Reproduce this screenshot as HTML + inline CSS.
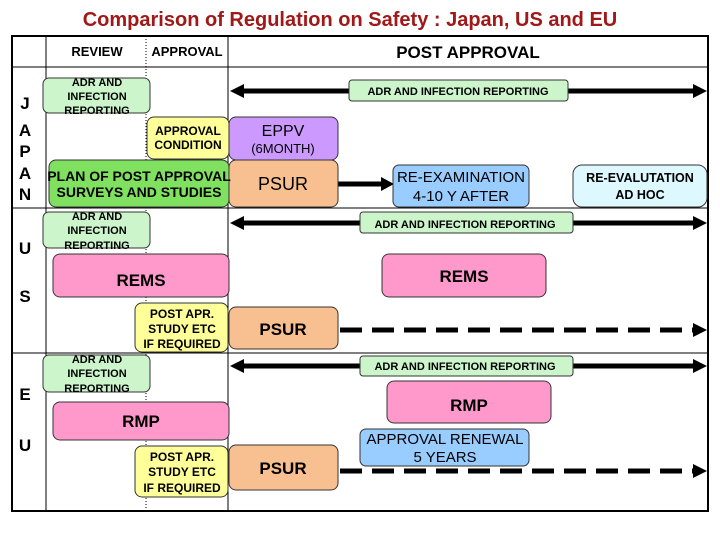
<!DOCTYPE html>
<html><head><meta charset="utf-8"><style>
html,body{margin:0;padding:0;background:#fff}
svg{display:block}
text{font-family:"Liberation Sans",Arial,sans-serif}
</style></head><body>
<svg width="720" height="540" viewBox="0 0 720 540" xmlns="http://www.w3.org/2000/svg">
<text x="350" y="26" text-anchor="middle" font-size="20" font-weight="bold" fill="#a01818">Comparison of Regulation on Safety : Japan, US and EU</text>
<rect x="12" y="36" width="696" height="475" fill="none" stroke="#000" stroke-width="2"/>
<line x1="12" y1="67" x2="708" y2="67" stroke="#000"/>
<line x1="12" y1="208" x2="708" y2="208" stroke="#000"/>
<line x1="12" y1="353" x2="708" y2="353" stroke="#000"/>
<line x1="46" y1="36" x2="46" y2="511" stroke="#000"/>
<line x1="228" y1="36" x2="228" y2="511" stroke="#000"/>
<line x1="146" y1="36" x2="146" y2="511" stroke="#000" stroke-dasharray="1,2"/>
<g font-weight="bold" font-size="13" text-anchor="middle">
<text x="97" y="56">REVIEW</text><text x="187" y="56">APPROVAL</text>
<text x="468" y="58" font-size="17">POST APPROVAL</text>
</g>
<g font-weight="bold" font-size="17" text-anchor="middle">
<text x="25" y="109">J</text><text x="25" y="136">A</text><text x="25" y="157">P</text><text x="25" y="179">A</text><text x="25" y="200">N</text>
<text x="25" y="254">U</text><text x="25" y="302">S</text><text x="25" y="400">E</text><text x="25" y="451">U</text>
</g>
<g stroke="#000" stroke-width="5">
<line x1="350" y1="91" x2="240" y2="91"/>
<line x1="568" y1="91" x2="696" y2="91"/>
<line x1="360" y1="223" x2="240" y2="223"/>
<line x1="573" y1="223" x2="696" y2="223"/>
<line x1="360" y1="366" x2="240" y2="366"/>
<line x1="573" y1="366" x2="696" y2="366"/>
<line x1="338" y1="184" x2="384" y2="184"/>
<line x1="340" y1="330" x2="696" y2="330" stroke-dasharray="22,10"/>
<line x1="340" y1="471" x2="696" y2="471" stroke-dasharray="22,10"/>
</g>
<g fill="#000">
<polygon points="230,91 244,84 244,98"/><polygon points="707,91 693,84 693,98"/>
<polygon points="230,223 244,216 244,230"/><polygon points="707,223 693,216 693,230"/>
<polygon points="230,366 244,359 244,373"/><polygon points="707,366 693,359 693,373"/>
<polygon points="394,184 381,177 381,191"/>
<polygon points="707,330 693,323 693,337"/><polygon points="707,471 693,464 693,478"/>
</g>
<g stroke="#333" stroke-width="1">
<rect x="43" y="78" width="107" height="35" rx="6" fill="#ccf5cc"/>
<rect x="349" y="80" width="219" height="21" rx="3" fill="#ccf5cc"/>
<rect x="147" y="117" width="82" height="42" rx="7" fill="#ffff99"/>
<rect x="229" y="117" width="109" height="43" rx="7" fill="#cc99ff"/>
<rect x="49" y="160" width="180" height="47" rx="7" fill="#80e060"/>
<rect x="229" y="160" width="109" height="47" rx="7" fill="#f8c090"/>
<rect x="393" y="165" width="136" height="42" rx="6" fill="#99ccff"/>
<rect x="573" y="165" width="134" height="42" rx="9" fill="#ddf8ff"/>
<rect x="43" y="212" width="107" height="36" rx="6" fill="#ccf5cc"/>
<rect x="360" y="212" width="213" height="21" rx="3" fill="#ccf5cc"/>
<rect x="53" y="254" width="176" height="43" rx="7" fill="#ff99cc"/>
<rect x="382" y="254" width="164" height="43" rx="7" fill="#ff99cc"/>
<rect x="135" y="303" width="93" height="49" rx="7" fill="#ffff99"/>
<rect x="229" y="307" width="109" height="42" rx="7" fill="#f8c090"/>
<rect x="43" y="355" width="107" height="37" rx="6" fill="#ccf5cc"/>
<rect x="360" y="356" width="213" height="20" rx="3" fill="#ccf5cc"/>
<rect x="53" y="402" width="176" height="38" rx="7" fill="#ff99cc"/>
<rect x="387" y="381" width="164" height="42" rx="7" fill="#ff99cc"/>
<rect x="360" y="429" width="169" height="37" rx="6" fill="#99ccff"/>
<rect x="135" y="446" width="93" height="51" rx="7" fill="#ffff99"/>
<rect x="229" y="445" width="109" height="45" rx="7" fill="#f8c090"/>
</g>
<g font-weight="bold" font-size="11" text-anchor="middle">
<text x="97" y="86">ADR AND</text><text x="97" y="100">INFECTION</text><text x="97" y="114">REPORTING</text>
<text x="97" y="220">ADR AND</text><text x="97" y="234">INFECTION</text><text x="97" y="249">REPORTING</text>
<text x="97" y="363">ADR AND</text><text x="97" y="377">INFECTION</text><text x="97" y="392">REPORTING</text>
<text x="458" y="95">ADR AND INFECTION REPORTING</text>
<text x="465" y="228">ADR AND INFECTION REPORTING</text>
<text x="465" y="370">ADR AND INFECTION REPORTING</text>
<text x="188" y="135" font-size="12">APPROVAL</text><text x="188" y="149" font-size="12">CONDITION</text>
<text x="139" y="181" font-size="14">PLAN OF POST APPROVAL</text><text x="139" y="197" font-size="14">SURVEYS AND STUDIES</text>
<text x="640" y="182" font-size="12.5">RE-EVALUTATION</text><text x="640" y="199" font-size="12.5">AD HOC</text>
<text x="182" y="318" font-size="12">POST APR.</text><text x="182" y="333" font-size="12">STUDY ETC</text><text x="182" y="348" font-size="12">IF REQUIRED</text>
<text x="182" y="461" font-size="12">POST APR.</text><text x="182" y="476" font-size="12">STUDY ETC</text><text x="182" y="492" font-size="12">IF REQUIRED</text>
<text x="141" y="286" font-size="17">REMS</text><text x="464" y="282" font-size="17">REMS</text>
<text x="141" y="427" font-size="17">RMP</text><text x="469" y="411" font-size="17">RMP</text>
<text x="283" y="335" font-size="17">PSUR</text><text x="283" y="474" font-size="17">PSUR</text>
</g>
<g font-size="15" text-anchor="middle">
<text x="283" y="136" font-size="16">EPPV</text><text x="283" y="153" font-size="13">(6MONTH)</text>
<text x="283" y="190" font-size="18">PSUR</text>
<text x="461" y="182">RE-EXAMINATION</text><text x="461" y="201">4-10 Y AFTER</text>
<text x="445" y="444">APPROVAL RENEWAL</text><text x="445" y="462">5 YEARS</text>
</g>
</svg>
</body></html>
